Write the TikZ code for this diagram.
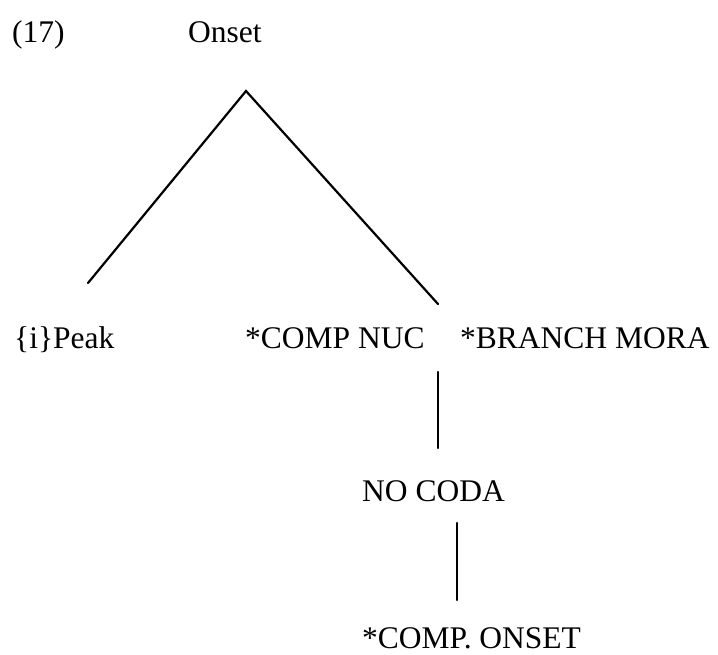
\documentclass[tikz,border=0pt]{standalone}
\usepackage{fontspec}
\setmainfont{Liberation Serif}
\begin{document}
\begin{tikzpicture}[x=1pt,y=1pt,
  lab/.style={anchor=base west,inner sep=0pt,font=\fontsize{31.5}{36}\selectfont},
  branch/.style={line width=2.2pt,line cap=round}]
\useasboundingbox (0,0) rectangle (718,-654);
\node[lab] (num) at (12,-42) {(17)};
\node[lab] (onset) at (188,-42) {Onset};
\node[lab] (peak) at (14,-348) {\{i\}Peak};
\node[lab] (compnuc) at (245,-348) {*COMP NUC};
\node[lab] (branch) at (460,-348) {*BRANCH MORA};
\node[lab] (nocoda) at (362,-501) {NO CODA};
\node[lab] (componset) at (362,-648) {*COMP. ONSET};
\coordinate (apex) at (246,-91);
\coordinate (lend) at (88,-283);
\coordinate (rend) at (438,-304);
\coordinate (v1a) at (438,-372);
\coordinate (v1b) at (438,-448);
\coordinate (v2a) at (457,-523);
\coordinate (v2b) at (457,-600);
\draw[branch] (lend) -- (apex) -- (rend);
\draw[branch] (v1a) -- (v1b);
\draw[branch] (v2a) -- (v2b);
\end{tikzpicture}
\end{document}
